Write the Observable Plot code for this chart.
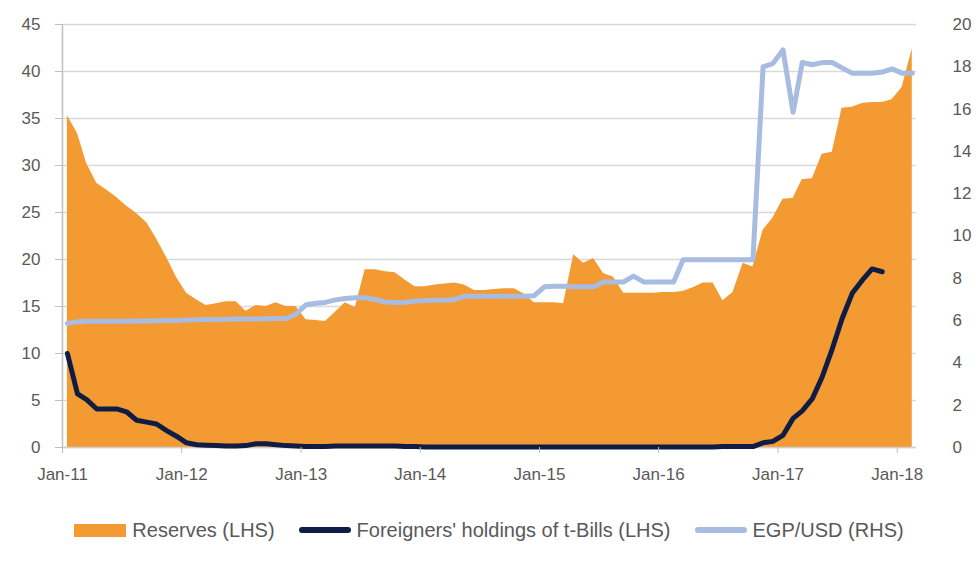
<!DOCTYPE html>
<html>
<head>
<meta charset="utf-8">
<script src="https://cdn.jsdelivr.net/npm/d3@7"></script>
<script src="https://cdn.jsdelivr.net/npm/@observablehq/plot@0.6"></script>
<style>
  html, body { margin: 0; padding: 0; background: #fff; }
  body { width: 978px; height: 563px; overflow: hidden; font-family: "Liberation Sans", Arial, sans-serif; }
  #legend { display: flex; justify-content: center; align-items: center; height: 40px; margin-top: 10px; color: #595959; font-size: 20px; }
  .item { display: flex; align-items: center; margin: 0 12px; }
  .sw { display: inline-block; width: 52px; margin-right: 6px; }
</style>
</head>
<body>
<div id="chart"></div>
<div id="legend"></div>
<script>
// Monthly series, Jan-2011 .. Feb-2018
const startYear = 2011;
const reserves = [
  35.3, 33.4, 30.2, 28.1, 27.4, 26.6, 25.7, 24.9, 23.9, 22.2, 20.2, 18.1,
  16.4, 15.7, 15.1, 15.3, 15.5, 15.5, 14.5, 15.1, 15.0, 15.4, 15.0, 15.0,
  13.6, 13.5, 13.4, 14.4, 15.4, 14.9, 18.9, 18.9, 18.7, 18.6, 17.8, 17.1,
  17.1, 17.3, 17.4, 17.5, 17.3, 16.7, 16.7, 16.8, 16.9, 16.9, 16.3, 15.4,
  15.4, 15.4, 15.3, 20.5, 19.6, 20.1, 18.5, 18.1, 16.4, 16.4, 16.4, 16.4,
  16.5, 16.5, 16.6, 17.0, 17.5, 17.5, 15.6, 16.5, 19.6, 19.2, 23.1, 24.4,
  26.4, 26.5, 28.5, 28.6, 31.2, 31.4, 36.1, 36.2, 36.6, 36.7, 36.7, 37.0,
  38.3, 42.4
];
const tbills = [
  10.0, 5.7, 5.1, 4.1, 4.1, 4.1, 3.8, 2.9, 2.7, 2.5, 1.8, 1.2,
  0.5, 0.3, 0.25, 0.2, 0.15, 0.15, 0.2, 0.4, 0.4, 0.3, 0.2, 0.15,
  0.1, 0.1, 0.1, 0.15, 0.15, 0.15, 0.15, 0.15, 0.15, 0.15, 0.1, 0.1,
  0.05, 0.05, 0.05, 0.05, 0.05, 0.05, 0.05, 0.05, 0.05, 0.05, 0.05, 0.05,
  0.05, 0.05, 0.05, 0.05, 0.05, 0.05, 0.05, 0.05, 0.05, 0.05, 0.05, 0.05,
  0.05, 0.05, 0.05, 0.05, 0.05, 0.05, 0.1, 0.1, 0.1, 0.1, 0.5, 0.65,
  1.3, 3.1, 3.9, 5.2, 7.5, 10.5, 13.7, 16.4, 17.8, 19.0, 18.7, null,
  null, null
];
const egpusd = [
  5.87, 5.95, 5.97, 5.97, 5.97, 5.97, 5.97, 5.98, 5.98, 5.99, 6.0, 6.01,
  6.03, 6.04, 6.05, 6.05, 6.06, 6.07, 6.07, 6.08, 6.09, 6.1, 6.1, 6.3,
  6.75, 6.82, 6.86, 6.98, 7.04, 7.08, 7.08, 7.0, 6.88, 6.86, 6.87, 6.93,
  6.95, 6.96, 6.96, 7.0, 7.15, 7.15, 7.15, 7.15, 7.15, 7.15, 7.15, 7.18,
  7.6, 7.62, 7.62, 7.6, 7.6, 7.6, 7.83, 7.83, 7.83, 8.1, 7.83, 7.83,
  7.83, 7.83, 8.88, 8.88, 8.88, 8.88, 8.88, 8.88, 8.88, 8.88, 18.0, 18.15,
  18.8, 15.85, 18.2, 18.1, 18.2, 18.2, 17.95, 17.7, 17.7, 17.7, 17.75, 17.9,
  17.7, 17.7
];
const xTickLabels = ["Jan-11", "Jan-12", "Jan-13", "Jan-14", "Jan-15", "Jan-16", "Jan-17", "Jan-18"];
const leftTicks = [0, 5, 10, 15, 20, 25, 30, 35, 40, 45];
const rightTicks = [0, 2, 4, 6, 8, 10, 12, 14, 16, 18, 20];

const lhsMax = 45, rhsMax = 20, k = lhsMax / rhsMax;
const data = reserves.map((r, i) => ({
  date: new Date(Date.UTC(startYear, i, 16)),
  reserves: r,
  tbills: tbills[i],
  egp: egpusd[i] * k
}));
const xTickDates = xTickLabels.map((_, j) => new Date(Date.UTC(startYear + j, 0, 1)));
const x0 = new Date(Date.UTC(startYear, 0, 1));
const x1 = new Date(Date.UTC(startYear, reserves.length, 1));

const chart = Plot.plot({
  width: 978,
  height: 500,
  marginLeft: 62,
  marginRight: 62,
  marginTop: 24,
  marginBottom: 53,
  style: { fontFamily: "Liberation Sans, Arial, sans-serif", fontSize: "17px", color: "#595959", background: "#fff" },
  x: { type: "utc", domain: [x0, x1] },
  y: { domain: [0, lhsMax] },
  marks: [
    Plot.gridY(leftTicks, { stroke: "#d9d9d9", strokeOpacity: 1, strokeWidth: 1.5 }),
    Plot.areaY(data, { x: "date", y: "reserves", fill: "#F39A33", curve: "linear" }),
    Plot.ruleY([0], { stroke: "#d0d0d0", strokeWidth: 1.5 }),
    Plot.ruleX([x0], { stroke: "#bfbfbf", strokeWidth: 1.5 }),
    Plot.lineY(data, { x: "date", y: "egp", stroke: "#A8BBE0", strokeWidth: 5, strokeLinejoin: "round", strokeLinecap: "round" }),
    Plot.lineY(data.filter(d => d.tbills != null), { x: "date", y: "tbills", stroke: "#0F1D45", strokeWidth: 5, strokeLinejoin: "round", strokeLinecap: "round" }),
    Plot.axisY(leftTicks, { anchor: "left", tickSize: 7, tickPadding: 15, stroke: "#bfbfbf", fill: "#595959", label: null }),
    Plot.axisY(rightTicks.map(v => v * k), { anchor: "right", tickSize: 0, tickPadding: 24, textAnchor: "start", dx: 12, fill: "#595959", tickFormat: d => String(Math.round(d / k)), label: null }),
    Plot.axisX(xTickDates, { anchor: "bottom", tickSize: 6, tickPadding: 14, stroke: "#bfbfbf", fill: "#595959", tickFormat: (d, i) => xTickLabels[i], label: null })
  ]
});
document.getElementById("chart").appendChild(chart);

// Legend
const legendItems = [
  { label: "Reserves (LHS)", color: "#F39A33", kind: "box" },
  { label: "Foreigners' holdings of t-Bills (LHS)", color: "#0F1D45", kind: "line" },
  { label: "EGP/USD (RHS)", color: "#A8BBE0", kind: "line" }
];
const legend = document.getElementById("legend");
for (const it of legendItems) {
  const item = document.createElement("div");
  item.className = "item";
  const sw = document.createElement("span");
  sw.className = "sw";
  sw.style.background = it.color;
  if (it.kind === "box") { sw.style.height = "13px"; }
  else { sw.style.height = "6px"; sw.style.borderRadius = "3px"; }
  const tx = document.createElement("span");
  tx.textContent = it.label;
  item.appendChild(sw);
  item.appendChild(tx);
  legend.appendChild(item);
}
</script>
</body>
</html>
